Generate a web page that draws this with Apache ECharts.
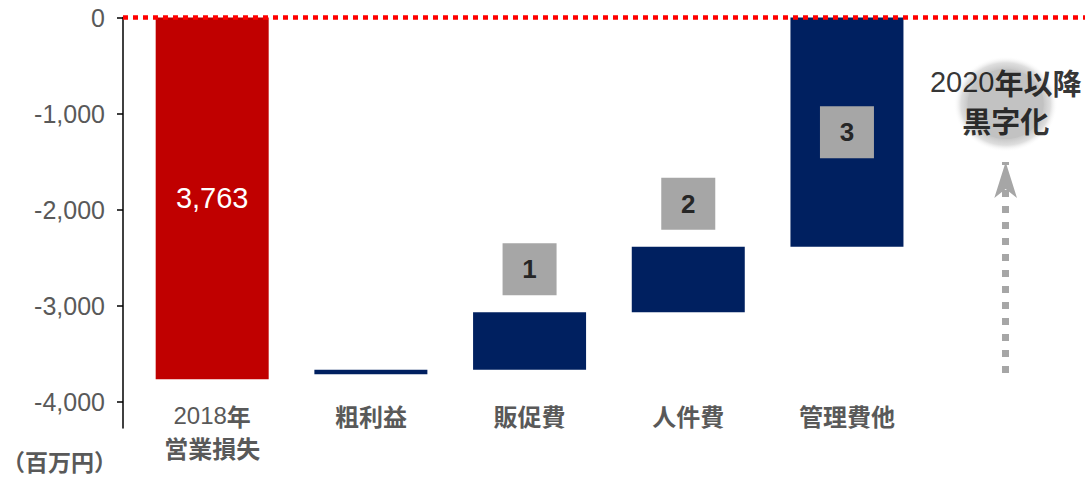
<!DOCTYPE html>
<html>
<head>
<meta charset="utf-8">
<script src="https://cdn.jsdelivr.net/npm/echarts@6/dist/echarts.min.js"></script>
<style>
  html, body { margin: 0; padding: 0; background: #fff; }
  #chart { width: 1091px; height: 477px; }
</style>
</head>
<body>
<div id="chart"></div>
<script>
// Waterfall categories (the last slot holds the outlook arrow)
const categories = ['2018年\n営業損失', '粗利益', '販促費', '人件費', '管理費他', ''];
// Where each floating bar starts (stack base) and how far it runs, in millions of yen
const barBase = [0, -3665, -3065, -2385, 0];
const barDelta = [-3763, -45, -600, -680, -2385];
// Step numbers shown in the grey boxes
const stepNotes = ['', '', '1', '2', '3'];
// Value-axis ticks
const yTicks = [0, -1000, -2000, -3000, -4000];
const unitLabel = '（百万円）';
const outlookText = '2020年以降\n黒字化';
// Anchor of the outlook note, in axis units
const outlookPoint = [5, -900];

const RED = '#c00000';
const NAVY = '#002060';
const GREY_TEXT = '#595959';
const LATIN = 'Liberation Sans';
const CJK = 'Noto Sans CJK JP';

function withCommas(v) {
  const s = String(Math.abs(v)).replace(/\B(?=(\d{3})+(?!\d))/g, ',');
  return v < 0 ? '-' + s : s;
}

// Split text into Latin runs and CJK runs so each can use its own font
function richText(str, latinKey, cjkKey) {
  return str.split('\n').map(function (line) {
    return line.replace(/([\x00-\x7F]+)|([^\x00-\x7F]+)/g, function (m, a, b) {
      return a ? '{' + latinKey + '|' + a + '}' : '{' + cjkKey + '|' + b + '}';
    });
  }).join('\n');
}

const stepLabel = function (i) {
  return {
    show: true,
    position: i === 4 ? 'inside' : 'top',
    distance: 17,
    formatter: stepNotes[i],
    backgroundColor: '#a6a6a6',
    width: 54,
    height: 52,
    lineHeight: 52,
    align: 'center',
    color: '#262626',
    fontWeight: 'bold',
    fontSize: 26,
    fontFamily: LATIN,
    textBorderWidth: 0
  };
};

const visibleData = barDelta.map(function (v, i) {
  const item = { value: [v, i] };
  if (i === 0) {
    item.label = {
      show: true,
      position: 'inside',
      formatter: function (p) { return withCommas(Math.abs(p.value[0])); },
      color: '#ffffff',
      fontSize: 29,
      fontFamily: LATIN,
      textBorderWidth: 0
    };
  } else if (stepNotes[i]) {
    item.label = stepLabel(i);
  }
  return item;
});

const unitText = {
  id: 'unit',
  type: 'text',
  left: 2,
  top: 449,
  style: { text: unitLabel, font: 'bold 23px "' + CJK + '"', fill: GREY_TEXT }
};

const chart = echarts.init(document.getElementById('chart'), null, { renderer: 'svg' });

chart.setOption({
  animation: false,
  backgroundColor: '#ffffff',
  grid: { left: 123, right: 6, top: 17.5, bottom: 49, containLabel: false },
  xAxis: {
    type: 'value',
    min: -0.562,
    max: 5.5,
    axisLine: { show: false, onZero: false },
    axisTick: { show: false },
    splitLine: { show: false },
    axisLabel: {
      customValues: [0, 1, 2, 3, 4],
      formatter: function (v) { return richText(categories[v], 'd', 'c'); },
      margin: -29,
      lineHeight: 32,
      rich: {
        d: { fontFamily: LATIN, fontSize: 24, color: GREY_TEXT, lineHeight: 32 },
        c: { fontFamily: CJK, fontWeight: 'bold', fontSize: 24, color: GREY_TEXT, lineHeight: 32 }
      }
    }
  },
  yAxis: {
    type: 'value',
    min: -4270,
    max: 0,
    axisLine: { show: true, onZero: false, lineStyle: { color: '#000000', width: 1.5 } },
    axisTick: { show: true, length: 6, customValues: yTicks, lineStyle: { color: '#000000', width: 1.5 } },
    axisLabel: {
      customValues: yTicks,
      formatter: withCommas,
      fontSize: 25,
      color: GREY_TEXT,
      fontFamily: LATIN,
      margin: 18
    },
    splitLine: { show: false }
  },
  graphic: [unitText],
  series: [
    {
      name: 'base',
      type: 'bar',
      stack: 'waterfall',
      encode: { x: 1, y: 0 },
      barWidth: 113,
      silent: true,
      itemStyle: { color: 'rgba(0,0,0,0)' },
      emphasis: { disabled: true },
      data: barBase.map(function (v, i) { return [v, i]; })
    },
    {
      name: 'change',
      type: 'bar',
      stack: 'waterfall',
      encode: { x: 1, y: 0 },
      barWidth: 113,
      silent: true,
      itemStyle: {
        color: function (p) { return p.dataIndex === 0 ? RED : NAVY; }
      },
      emphasis: { disabled: true },
      data: visibleData
    },
    {
      name: 'guides',
      type: 'line',
      data: [],
      silent: true,
      markLine: {
        silent: true,
        symbol: 'none',
        label: { show: false },
        emphasis: { disabled: true },
        data: [
          { yAxis: 0, lineStyle: { color: '#ff0000', width: 4.5, type: [5, 5] } },
          [
            { xAxis: 5, yAxis: -3697, symbol: 'none',
              lineStyle: { color: '#a6a6a6', width: 7, type: [7, 9] } },
            { xAxis: 5, yAxis: -1503, symbol: 'arrow', symbolSize: [17, 36],
              lineStyle: { color: '#a6a6a6', width: 7, type: [7, 9] } }
          ]
        ]
      }
    },
    {
      name: 'outlook',
      type: 'scatter',
      silent: true,
      z: 3,
      symbol: 'circle',
      symbolSize: 1,
      itemStyle: { color: 'rgba(0,0,0,0)' },
      emphasis: { disabled: true },
      label: {
        show: true,
        position: 'inside',
        offset: [0, -3],
        formatter: richText(outlookText, 'd', 'c'),
        lineHeight: 38,
        textBorderWidth: 0,
        textBorderColor: 'transparent',
        textShadowBlur: 0,
        rich: {
          d: { fontFamily: LATIN, fontSize: 29, color: '#000000', lineHeight: 38,
               textBorderWidth: 0, textBorderColor: 'transparent' },
          c: { fontFamily: CJK, fontWeight: 'bold', fontSize: 29, color: '#000000', lineHeight: 38,
               textBorderWidth: 0, textBorderColor: 'transparent' }
        }
      },
      data: [outlookPoint]
    }
  ]
});

// Soft grey halo behind the outlook note, centred on its anchor point:
// a solid core with a fading rim around it
const halo = chart.convertToPixel({ seriesIndex: 3 }, outlookPoint);
chart.setOption({
  graphic: [
    unitText,
    {
      id: 'halo-rim',
      type: 'circle',
      silent: true,
      z: 0,
      x: halo[0],
      y: halo[1],
      scaleY: 0.92,
      shape: { cx: 0, cy: 0, r: 52 },
      style: {
        fill: new echarts.graphic.RadialGradient(0.5, 0.5, 0.5, [
          { offset: 0, color: '#c2c2c2' },
          { offset: 0.7, color: '#c2c2c2' },
          { offset: 0.86, color: 'rgba(200,200,200,0.6)' },
          { offset: 1, color: 'rgba(255,255,255,0)' }
        ])
      }
    },
    {
      id: 'halo-core',
      type: 'circle',
      silent: true,
      z: 1,
      x: halo[0],
      y: halo[1],
      scaleY: 0.92,
      shape: { cx: 0, cy: 0, r: 38 },
      style: { fill: '#c2c2c2' }
    }
  ]
});
</script>
</body>
</html>
